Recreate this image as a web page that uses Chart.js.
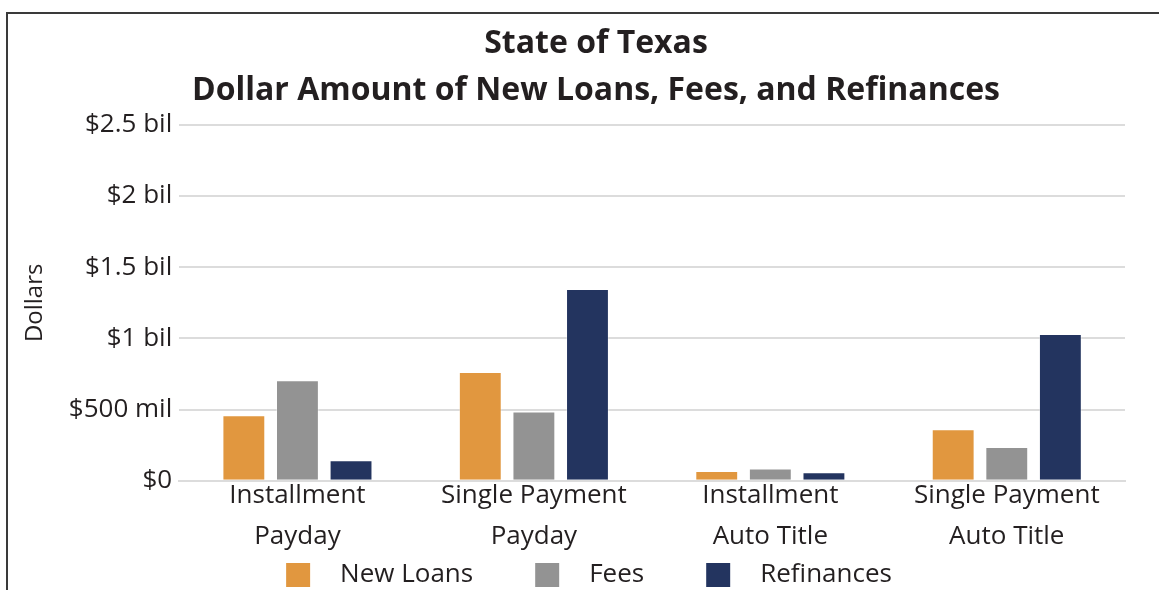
<!DOCTYPE html>
<html>
<head>
<meta charset="utf-8">
<script src="https://cdn.jsdelivr.net/npm/chart.js@4.4.0/dist/chart.umd.min.js"></script>
<style>
  html, body { margin: 0; padding: 0; background: #fff; overflow: hidden; }
  #frame { position: absolute; left: 6px; top: 12px; width: 1200px; height: 600px;
           border: 2px solid #3a3a3a; background: #fff; }
  #chart { position: absolute; left: 0; top: 0; }
</style>
</head>
<body>
<div id="frame"><canvas id="chart" width="1176" height="584"></canvas></div>
<script>
// Texas loan totals, in billions of dollars
const categories  = [['Installment', 'Payday'], ['Single Payment', 'Payday'],
                     ['Installment', 'Auto Title'], ['Single Payment', 'Auto Title']];
const newLoans    = [0.460, 0.765, 0.069, 0.362];
const fees        = [0.706, 0.487, 0.087, 0.238];
const refinances  = [0.145, 1.347, 0.061, 1.031];
const yTickLabels = ['$0', '$500 mil', '$1 bil', '$1.5 bil', '$2 bil', '$2.5 bil'];

const COLORS = { orange: '#e1973f', gray: '#939393', navy: '#23345f' };
const TEXT   = '#231f20';
const FONT   = 'Open Sans';

// legend swatch: a 24px square sitting inside a wider transparent strip,
// so the gap before the square and before the text can be set separately
const SW_X = 52, SW_W = SW_X + 41;
function swatch(color) {
  const c = document.createElement('canvas');
  c.width = SW_W; c.height = 24;
  const g = c.getContext('2d');
  g.fillStyle = color;
  g.fillRect(SW_X, 0, 24, 24);
  return c;
}

// the blank lead-in of each swatch pushes the legend right; pull it back
const legendNudge = {
  id: 'legendNudge',
  afterLayout(chart) {
    const dx = -(SW_X / 2 + 7);
    chart.legend.left += dx;
    chart.legend.right += dx;
  }
};

const series = [
  { label: 'New Loans',  data: newLoans,   color: COLORS.orange },
  { label: 'Fees',       data: fees,       color: COLORS.gray },
  { label: 'Refinances', data: refinances, color: COLORS.navy }
];

new Chart(document.getElementById('chart'), {
  type: 'bar',
  data: {
    labels: categories,
    datasets: series.map(s => ({
      label: s.label,
      data: s.data,
      backgroundColor: s.color,
      borderColor: 'rgba(255,255,255,0.35)',
      borderWidth: 1,
      categoryPercentage: 0.68,
      barPercentage: 0.8,
      pointStyle: swatch(s.color)
    }))
  },
  options: {
    responsive: false,
    animation: false,
    layout: { padding: 0 },
    plugins: {
      title: {
        display: true,
        text: ['State of Texas', 'Dollar Amount of New Loans, Fees, and Refinances'],
        color: TEXT,
        font: { family: FONT, size: 32, weight: 'bold', lineHeight: 1.45 },
        padding: { top: 7, bottom: 11 }
      },
      legend: {
        position: 'bottom',
        labels: {
          color: TEXT,
          font: { family: FONT, size: 26 },
          usePointStyle: true,
          pointStyleWidth: SW_W,
          padding: 10
        }
      },
      tooltip: { enabled: false }
    },
    scales: {
      x: {
        grid: { display: false, drawTicks: false },
        border: { color: '#dcdcdc', width: 2 },
        ticks: {
          color: TEXT,
          font: { family: FONT, size: 26, lineHeight: 1.58 },
          maxRotation: 0,
          padding: -5.5
        }
      },
      y: {
        min: 0,
        max: 2.5,
        ticks: {
          stepSize: 0.5,
          color: TEXT,
          font: { family: FONT, size: 26 },
          padding: 7,
          callback: (v, i) => yTickLabels[i]
        },
        grid: { color: '#dcdcdc', lineWidth: 2, drawTicks: false },
        border: { display: false },
        title: {
          display: true,
          text: 'Dollars',
          color: TEXT,
          font: { family: FONT, size: 24 },
          padding: { top: 13, bottom: 12 }
        }
      },
      // empty right-hand axis, only reserves the blank margin right of the plot
      yRight: {
        position: 'right',
        grid: { display: false },
        border: { display: false },
        ticks: { display: false },
        afterFit: s => { s.width = 59; }
      }
    }
  },
  plugins: [legendNudge]
});
</script>
</body>
</html>
